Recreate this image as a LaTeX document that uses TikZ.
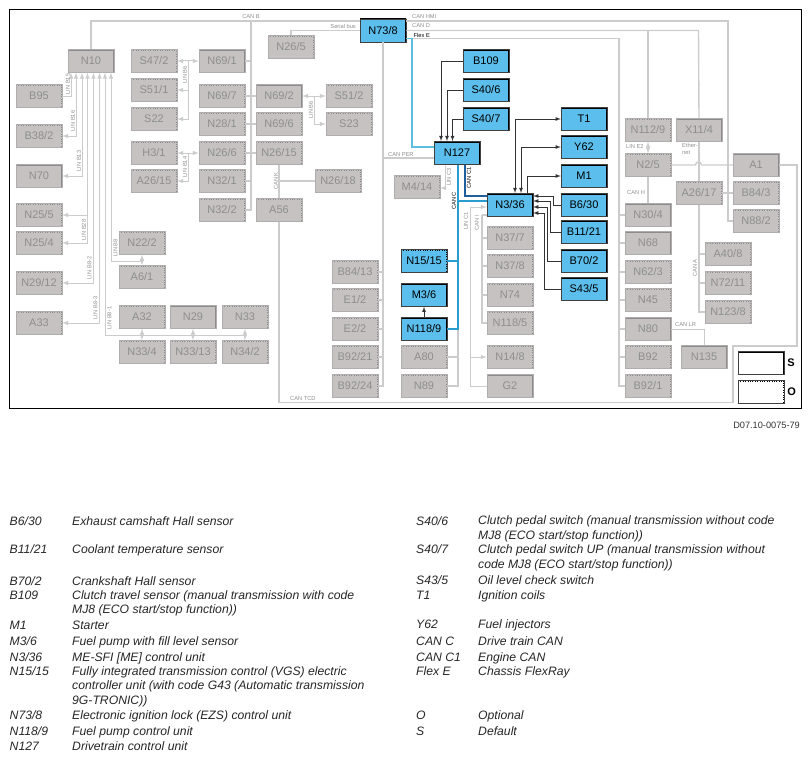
\documentclass[tikz,border=0pt]{standalone}
\usepackage{fontspec}
\setmainfont{Liberation Sans}
\usepackage{tikz}
\definecolor{boxgrey}{HTML}{C6C2C2}
\definecolor{edgegrey}{HTML}{8C8A8A}
\definecolor{textgrey}{HTML}{8E8E8E}
\definecolor{busgrey}{HTML}{CCCCCC}
\definecolor{boxblue}{HTML}{5CBEEC}
\definecolor{canc}{HTML}{2A9DD0}
\definecolor{cancone}{HTML}{1F5F9E}
\definecolor{flexblue}{HTML}{5CBFE0}
\tikzset{
  modbox/.style={minimum width=46pt,minimum height=23pt,inner sep=0pt,line width=.5pt,font=\fontsize{11}{11}\selectfont},
  edgestd/.style={path picture={\draw[#1,line width=3pt] (path picture bounding box.north west)--(path picture bounding box.north east)--(path picture bounding box.south east);}},
  edgeopt/.style={path picture={\draw[#1,line width=2.6pt,dash pattern=on 1pt off 1.4pt] (path picture bounding box.north west)--(path picture bounding box.north east)--(path picture bounding box.south east);}},
  greybox/.style={modbox,draw=edgegrey!70,fill=boxgrey,text=textgrey,edgestd=edgegrey},
  optgrey/.style={modbox,draw=edgegrey!70,fill=boxgrey,text=textgrey,edgeopt=edgegrey},
  bluebox/.style={modbox,draw=black!75,fill=boxblue,text=black,edgestd=black},
  optblue/.style={modbox,draw=black!75,fill=boxblue,text=black,edgeopt=black},
  bus/.style={draw=busgrey,line width=1.4pt},
  linbus/.style={draw=busgrey,line width=1pt,>=latex},
  sigline/.style={draw=black!80,line width=.8pt,>=latex},
  buslabel/.style={text=textgrey,inner sep=0pt,font=\fontsize{5.7}{6.6}\selectfont},
  blacklabel/.style={text=black,inner sep=0pt,font=\fontsize{5.7}{6.6}\selectfont},
  legendtext/.style={align=left,inner sep=0pt,text=black!85,font=\fontsize{12.2}{14.5}\selectfont\itshape},
  legend/.style={legendtext,anchor=base west,yshift=-4.2pt},
  legendblock/.style={legendtext,anchor=west,yshift=-1pt}
}
\begin{document}
\begin{tikzpicture}[x=1pt,y=-1pt]
\useasboundingbox (0,0) rectangle (811,760);
\draw[line width=.9pt] (9.5,9.5) rectangle (801,408);
\node[greybox] (N10) at (91,61) {N10};
\node[optgrey] (B95) at (39,96) {B95};
\node[optgrey] (B38-2) at (39,136) {B38/2};
\node[greybox] (N70) at (39,176) {N70};
\node[optgrey] (N25-5) at (39,215) {N25/5};
\node[optgrey] (N25-4) at (39,243) {N25/4};
\node[optgrey] (N29-12) at (39,283) {N29/12};
\node[optgrey] (A33) at (39,323) {A33};
\node[optgrey] (N22-2) at (142,243) {N22/2};
\node[optgrey] (A6-1) at (142,277) {A6/1};
\node[optgrey] (A32) at (142,317) {A32};
\node[greybox] (N29) at (193,317) {N29};
\node[optgrey] (N33) at (245,317) {N33};
\node[optgrey] (N33-4) at (142,352) {N33/4};
\node[optgrey] (N33-13) at (193,352) {N33/13};
\node[optgrey] (N34-2) at (245,352) {N34/2};
\node[optgrey] (S47-2) at (154,61) {S47/2};
\node[optgrey] (S51-1) at (154,90) {S51/1};
\node[optgrey] (S22) at (154,119) {S22};
\node[optgrey] (H3-1) at (154,153) {H3/1};
\node[optgrey] (A26-15) at (154,181) {A26/15};
\node[greybox] (N69-1) at (222,61) {N69/1};
\node[optgrey] (N69-7) at (222,96) {N69/7};
\node[optgrey] (N28-1) at (222,124) {N28/1};
\node[optgrey] (N26-6) at (222,153) {N26/6};
\node[optgrey] (N32-1) at (222,181) {N32/1};
\node[optgrey] (N32-2) at (222,210) {N32/2};
\node[greybox] (N69-2) at (279,96) {N69/2};
\node[optgrey] (N69-6) at (279,124) {N69/6};
\node[optgrey] (N26-15) at (279,153) {N26/15};
\node[optgrey] (A56) at (279,210) {A56};
\node[optgrey] (S51-2) at (349,96) {S51/2};
\node[optgrey] (S23) at (349,124) {S23};
\node[optgrey] (N26-18) at (338,181) {N26/18};
\node[optgrey] (N26-5) at (291,47) {N26/5};
\node[bluebox] (N73-8) at (383,30.5) {N73/8};
\node[bluebox] (B109) at (486,61) {B109};
\node[bluebox] (S40-6) at (486,90) {S40/6};
\node[bluebox] (S40-7) at (486,119) {S40/7};
\node[bluebox] (N127) at (457,153) {N127};
\node[optgrey] (M4-14) at (417,187) {M4/14};
\node[bluebox] (N3-36) at (510,205) {N3/36};
\node[bluebox] (T1) at (584,119) {T1};
\node[bluebox] (Y62) at (584,147) {Y62};
\node[bluebox] (M1) at (584,176) {M1};
\node[bluebox] (B6-30) at (584,205) {B6/30};
\node[bluebox] (B11-21) at (584,232) {B11/21};
\node[bluebox] (B70-2) at (584,261) {B70/2};
\node[bluebox] (S43-5) at (584,289) {S43/5};
\node[optgrey] (N37-7) at (510,238) {N37/7};
\node[optgrey] (N37-8) at (510,266) {N37/8};
\node[optgrey] (N74) at (510,295) {N74};
\node[optgrey] (N118-5) at (510,323) {N118/5};
\node[optgrey] (N14-8) at (510,357) {N14/8};
\node[greybox] (G2) at (510,386) {G2};
\node[optblue] (N15-15) at (424,261) {N15/15};
\node[bluebox] (M3-6) at (424,295) {M3/6};
\node[bluebox] (N118-9) at (424,329) {N118/9};
\node[optgrey] (A80) at (424,357) {A80};
\node[optgrey] (N89) at (424,386) {N89};
\node[optgrey] (B84-13) at (355,272) {B84/13};
\node[optgrey] (E1-2) at (355,300) {E1/2};
\node[optgrey] (E2-2) at (355,329) {E2/2};
\node[optgrey] (B92-21) at (355,357) {B92/21};
\node[optgrey] (B92-24) at (355,386) {B92/24};
\node[optgrey] (N112-9) at (648,130) {N112/9};
\node[greybox] (X11-4) at (699,130) {X11/4};
\node[optgrey] (N2-5) at (648,165) {N2/5};
\node[greybox] (A1) at (756,165) {A1};
\node[optgrey] (A26-17) at (699,193) {A26/17};
\node[optgrey] (B84-3) at (756,193) {B84/3};
\node[optgrey] (N88-2) at (756,221) {N88/2};
\node[greybox] (N30-4) at (648,215) {N30/4};
\node[greybox] (N68) at (648,243) {N68};
\node[optgrey] (N62-3) at (648,272) {N62/3};
\node[optgrey] (N45) at (648,300) {N45};
\node[greybox] (N80) at (648,329) {N80};
\node[optgrey] (B92) at (648,357) {B92};
\node[optgrey] (B92-1) at (648,386) {B92/1};
\node[optgrey] (A40-8) at (728,254) {A40/8};
\node[optgrey] (N72-11) at (728,283) {N72/11};
\node[optgrey] (N123-8) at (728,312) {N123/8};
\node[greybox] (N135) at (704,357) {N135};
\node[modbox,draw=black!75,fill=white,edgestd=black] (keyS) at (761,363) {};
\node[modbox,draw=black!75,fill=white,edgeopt=black] (keyO) at (761,392) {};
\node[right=3pt,inner sep=0pt,font=\fontsize{11}{11}\selectfont\bfseries] (lblS) at (keyS.east) {S};
\node[right=3pt,inner sep=0pt,font=\fontsize{11}{11}\selectfont\bfseries] (lblO) at (keyO.east) {O};
\coordinate (canB) at (251,21);
\coordinate (canHMI) at (728,21);
\coordinate (canD) at (698.5,30.5);
\coordinate (serial) at (291,30.5);
\coordinate (flexE) at (619,38.5);
\coordinate (canPER) at (383,158);
\coordinate (canTCDa) at (733,402.5);
\coordinate (canTCDb) at (797,346);
\coordinate (canI) at (482,215);
\coordinate (linCone) at (470,207);
\coordinate (canCtop) at (458,165);
\coordinate (canCbot) at (458,329);
\coordinate (canCgrey) at (458,386);
\draw[bus] (N10.north) |- (canB) -- (N73-8.west |- canB);
\draw[bus] (canB) |- (N69-1.east);
\draw[bus] (canB) |- (N32-1.east);
\draw[bus] (canB) |- (N32-2.east);
\draw[bus] (N69-7.east) -- (N69-2.west);
\draw[bus] (N28-1.east) -- (N69-6.west);
\draw[bus] (N26-6.east) -- (N26-15.west);
\draw[bus] (N26-15.south) -- (A56.north);
\draw[bus] (N26-18.west) -| (N26-15.south);
\draw[bus] (N73-8.west |- serial) -- (serial) -- (N26-5.north);
\draw[bus] (N73-8.east |- canHMI) -- (canHMI) -- (canHMI |- N88-2.west) -- (N88-2.west);
\draw[bus] (N73-8.east) -- (canD) -- (X11-4.north);
\draw[bus] (N112-9.north) -- (N112-9.north |- canD);
\draw[bus] (X11-4.south) -- (A26-17.north);
\draw[bus] (N2-5.east) -- (695.5,165) .. controls (695.5,161) and (701.5,161) .. (701.5,165) -- (A1.west);
\draw[bus] (A26-17.east) -- (B84-3.west);
\draw[bus] (A26-17.south) |- (N123-8.west);
\draw[bus] (A26-17.south) |- (A40-8.west);
\draw[bus] (A26-17.south) |- (N72-11.west);
\draw[bus] (N73-8.east |- flexE) -- (flexE) |- (B92-1.west);
\draw[bus] (flexE) |- (N30-4.west);
\draw[bus] (flexE) |- (N68.west);
\draw[bus] (flexE) |- (N62-3.west);
\draw[bus] (flexE) |- (N45.west);
\draw[bus] (flexE) |- (N80.west);
\draw[bus] (flexE) |- (B92.west);
\draw[bus] (N2-5.south) -- (N30-4.north);
\draw[linbus] (N80.east) -| (N135.north);
\draw[bus] (N73-8.south) |- (B92-24.east);
\draw[bus] (canPER) -- (canPER -| N127.west);
\draw[bus] (N73-8.south) |- (B84-13.east);
\draw[bus] (N73-8.south) |- (E1-2.east);
\draw[bus] (N73-8.south) |- (E2-2.east);
\draw[bus] (N73-8.south) |- (B92-21.east);
\draw[bus] (A56.south) |- (canTCDa) |- (canTCDb) -- (canTCDb |- A1.east) -- (A1.east);
\draw[bus] (canCbot) |- (N89.east);
\draw[bus] (canCbot) |- (A80.east);
\draw[bus] (canI) -- (canI -| N3-36.west);
\draw[bus] (canI) |- (N118-5.west);
\draw[bus] (canI) |- (N37-7.west);
\draw[bus] (canI) |- (N37-8.west);
\draw[bus] (canI) |- (N74.west);
\draw[linbus,<-] (linCone -| N3-36.west) -- (linCone) |- (G2.west);
\draw[linbus,->] (linCone) |- (N14-8.west);
\draw[line width=1.5pt,draw=flexblue] (N73-8.east |- flexE) -- (412,38.5) |- ([yshift=6pt]N127.west);
\draw[line width=1.5pt,draw=canc] (canCtop) -- (canCbot) -- (N118-9.east);
\draw[line width=1.5pt,draw=canc] (canCtop |- N15-15.east) -- (N15-15.east);
\draw[line width=1.5pt,draw=canc] (canCtop |- 0,201) -- (N3-36.west |- 0,201);
\draw[line width=1.5pt,draw=cancone] (465,165) |- (N3-36.west |- 0,196);
\draw[linbus,->] (445,165) |- (M4-14.east |- 0,188);
\draw[linbus,<-] (N10.south -| 71,0) |- (B95.east);
\draw[linbus,<->] (N10.south -| 76,0) |- (B38-2.east);
\draw[linbus,<->] (N10.south -| 82,0) |- (N70.east);
\draw[linbus,<->] (N10.south -| 87.5,0) |- (N25-4.east);
\draw[linbus,->] (87.5,215) -- (N25-5.east);
\draw[linbus,<->] (N10.south -| 93.5,0) |- (N29-12.east);
\draw[linbus,<->] (N10.south -| 99.5,0) |- (A33.east);
\draw[linbus,<-] (N10.south -| 105,0) |- (245,335);
\draw[linbus,<-] (N10.south -| 111,0) |- (142,261);
\draw[linbus,<->] (N22-2.south) -- (A6-1.north);
\draw[linbus,<->] (A32.south) -- (N33-4.north);
\draw[linbus,<->] (N29.south) -- (N33-13.north);
\draw[linbus,<->] (N33.south) -- (N34-2.north);
\draw[linbus,<->] (S47-2.east) -- (N69-1.west);
\draw[linbus,->] (188,61) |- (S51-1.east);
\draw[linbus,->] (188,61) |- (S22.east);
\draw[linbus,<->] (H3-1.east) -- (N26-6.west);
\draw[linbus,->] (188,153) |- (A26-15.east);
\draw[linbus,<->] (N69-2.east) -- (S51-2.west);
\draw[linbus,->] (314,96) |- (S23.west);
\draw[linbus,<->] (N112-9.south) -- (N2-5.north);
\draw[sigline,->] (B109.west) -| (441,141);
\draw[sigline,->] (S40-6.west) -| (447,141);
\draw[sigline,->] (S40-7.west) -| (452.5,141);
\draw[sigline,->] (N118-9.north) -- (M3-6.south);
\draw[sigline,<->] (515,193) |- (T1.west);
\draw[sigline,<->] (521,193) |- (Y62.west);
\draw[sigline,->] (527,193) |- (M1.west);
\draw[sigline,->] (B6-30.west) -| (553,196) -- (N3-36.east |- 0,196);
\draw[sigline,->] (B11-21.west) -| (550,201) -- (N3-36.east |- 0,201);
\draw[sigline,->] (B70-2.west) -| (547,207) -- (N3-36.east |- 0,207);
\draw[sigline,->] (S43-5.west) -| (544,213) -- (N3-36.east |- 0,213);
\node[buslabel] (lblcanb) at (251,17) {CAN B};
\node[buslabel,anchor=west] (lblhmi) at (412,17) {CAN HMI};
\node[buslabel,anchor=west] (lbld) at (412,26) {CAN D};
\node[blacklabel,anchor=west] (lblflex) at (413.5,35) {Flex E};
\node[buslabel,anchor=east] (lblserial) at (356,26) {Serial bus};
\node[buslabel,anchor=west] (lblper) at (388,154.5) {CAN PER};
\node[buslabel,rotate=90] (lblk) at (276,181) {CAN K};
\node[buslabel,anchor=west] (lbltcd) at (290,399) {CAN TCD};
\node[buslabel,anchor=west] (lble2) at (626,147) {LIN E2};
\node[buslabel,anchor=west,align=left] (lbleth) at (682,149) {Ether-\\net};
\node[buslabel,anchor=west] (lblh) at (627,193) {CAN H};
\node[buslabel,rotate=90] (lbla) at (695,268) {CAN A};
\node[buslabel,anchor=west] (lbllr) at (675,325) {CAN LR};
\node[blacklabel,rotate=90] (lblc) at (454,201) {CAN C};
\node[blacklabel,rotate=90] (lblcone) at (469,178) {CAN C1};
\node[buslabel,rotate=90] (lblcthree) at (449,177) {LIN C3};
\node[buslabel,rotate=90] (lbllone) at (466,221) {LIN C1};
\node[buslabel,rotate=90] (lbli) at (477,223) {CAN I};
\node[buslabel,rotate=90] (lblbf) at (68,84) {LIN B15};
\node[buslabel,rotate=90] (lblbs) at (73,121) {LIN B16};
\node[buslabel,rotate=90] (lblbt) at (79,161) {LIN B13};
\node[buslabel,rotate=90] (lblbe) at (84,230) {LIN B28};
\node[buslabel,rotate=90] (lblbtwo) at (89.5,268) {LIN B8-2};
\node[buslabel,rotate=90] (lblbthree) at (95.5,308) {LIN B8-3};
\node[buslabel,rotate=90] (lblbone) at (109.5,318) {LIN B8-1};
\node[buslabel,rotate=90] (lblbeight) at (115.5,248) {LIN B8};
\node[buslabel,rotate=90] (lblbsix) at (185,75) {LIN B6};
\node[buslabel,rotate=90] (lblbfourteen) at (185,167) {LIN B14};
\node[buslabel,rotate=90] (lblbsixr) at (311,110) {LIN B6};
\node[anchor=east,inner sep=0pt,text=black!80,font=\fontsize{9.2}{10}\selectfont] (docno) at (800,425) {D07.10-0075-79};
\node[legend] (k1) at (9.5,521) {B6/30};
\node[legend] (t1) at (72,521) {Exhaust camshaft Hall sensor};
\node[legend] (k2) at (9.5,549) {B11/21};
\node[legend] (t2) at (72,549) {Coolant temperature sensor};
\node[legend] (k3) at (9.5,581) {B70/2};
\node[legend] (t3) at (72,581) {Crankshaft Hall sensor};
\node[legend] (k4) at (9.5,595.5) {B109};
\node[legendblock] (t4) at (72,602.5) {Clutch travel sensor (manual transmission with code\\MJ8 (ECO start/stop function))};
\node[legend] (k5) at (9.5,625) {M1};
\node[legend] (t5) at (72,625) {Starter};
\node[legend] (k6) at (9.5,641.5) {M3/6};
\node[legend] (t6) at (72,641.5) {Fuel pump with fill level sensor};
\node[legend] (k7) at (9.5,657) {N3/36};
\node[legend] (t7) at (72,657) {ME-SFI [ME] control unit};
\node[legend] (k8) at (9.5,671) {N15/15};
\node[legendblock] (t8) at (72,685.5) {Fully integrated transmission control (VGS) electric\\controller unit (with code G43 (Automatic transmission\\9G-TRONIC))};
\node[legend] (k9) at (9.5,715.5) {N73/8};
\node[legend] (t9) at (72,715.5) {Electronic ignition lock (EZS) control unit};
\node[legend] (k10) at (9.5,731.5) {N118/9};
\node[legend] (t10) at (72,731.5) {Fuel pump control unit};
\node[legend] (k11) at (9.5,746.5) {N127};
\node[legend] (t11) at (72,746.5) {Drivetrain control unit};
\node[legend] (k12) at (416,521) {S40/6};
\node[legendblock] (t12) at (478,528) {Clutch pedal switch (manual transmission without code\\MJ8 (ECO start/stop function))};
\node[legend] (k13) at (416,549) {S40/7};
\node[legendblock] (t13) at (478,557) {Clutch pedal switch UP (manual transmission without\\code MJ8 (ECO start/stop function))};
\node[legend] (k14) at (416,580.5) {S43/5};
\node[legend] (t14) at (478,580.5) {Oil level check switch};
\node[legend] (k15) at (416,595.5) {T1};
\node[legend] (t15) at (478,595.5) {Ignition coils};
\node[legend] (k16) at (416,624) {Y62};
\node[legend] (t16) at (478,624) {Fuel injectors};
\node[legend] (k17) at (416,641.5) {CAN C};
\node[legend] (t17) at (478,641.5) {Drive train CAN};
\node[legend] (k18) at (416,657) {CAN C1};
\node[legend] (t18) at (478,657) {Engine CAN};
\node[legend] (k19) at (416,671.5) {Flex E};
\node[legend] (t19) at (478,671.5) {Chassis FlexRay};
\node[legend] (k20) at (416,715.5) {O};
\node[legend] (t20) at (478,715.5) {Optional};
\node[legend] (k21) at (416,731.5) {S};
\node[legend] (t21) at (478,731.5) {Default};
\end{tikzpicture}
\end{document}
